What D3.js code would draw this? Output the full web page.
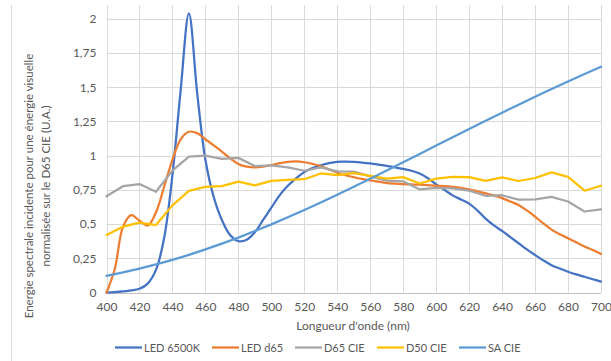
<!DOCTYPE html>
<html><head><meta charset="utf-8">
<script src="https://cdn.jsdelivr.net/npm/d3@7/dist/d3.min.js"></script>
<style>body{margin:0;background:#fff}svg{display:block}text{font-family:Lato,"Open Sans",sans-serif;fill:#595959}</style>
</head><body><svg id="c" width="611" height="361"></svg>
<script>
// wavelengths (nm)
const wl5 = [400,405,410,415,420,425,430,435,440,445,450,455,460,465,470,475,480,485,490,495,500,505,510,515,520,525,530,535,540,545,550,555,560,565,570,575,580,585,590,595,600,605,610,615,620,625,630,635,640,645,650,655,660,665,670,675,680,685,690,695,700];
const wl10 = [400,410,420,430,440,450,460,470,480,490,500,510,520,530,540,550,560,570,580,590,600,610,620,630,640,650,660,670,680,690,700];

const led6500k = [0.00,0.003,0.008,0.015,0.027,0.065,0.165,0.40,0.86,1.48,2.04,1.46,0.97,0.70,0.53,0.42,0.375,0.385,0.44,0.53,0.62,0.71,0.78,0.835,0.88,0.91,0.93,0.945,0.955,0.956,0.954,0.95,0.944,0.935,0.925,0.915,0.903,0.89,0.87,0.835,0.79,0.75,0.71,0.68,0.65,0.60,0.54,0.49,0.45,0.405,0.36,0.315,0.274,0.235,0.20,0.175,0.152,0.132,0.115,0.097,0.08];
const ledD65 = [0.00,0.17,0.48,0.565,0.525,0.49,0.585,0.775,0.97,1.12,1.175,1.165,1.12,1.075,1.03,0.98,0.94,0.92,0.915,0.92,0.932,0.945,0.955,0.958,0.952,0.94,0.925,0.90,0.875,0.857,0.843,0.83,0.82,0.81,0.80,0.795,0.792,0.79,0.788,0.785,0.78,0.777,0.772,0.765,0.754,0.74,0.725,0.71,0.69,0.665,0.64,0.60,0.555,0.505,0.46,0.425,0.397,0.367,0.336,0.31,0.282];
const d65cie = [0.703,0.777,0.793,0.736,0.891,0.993,1.000,0.976,0.984,0.924,0.929,0.915,0.890,0.914,0.886,0.883,0.849,0.818,0.813,0.753,0.764,0.761,0.745,0.707,0.711,0.679,0.681,0.699,0.665,0.592,0.608];
const d50cie = [0.420,0.481,0.511,0.493,0.637,0.743,0.772,0.778,0.810,0.783,0.816,0.823,0.828,0.870,0.858,0.872,0.852,0.833,0.843,0.797,0.832,0.846,0.844,0.816,0.842,0.815,0.837,0.878,0.845,0.744,0.780];
const saCie = [0.122,0.147,0.175,0.205,0.239,0.275,0.315,0.357,0.401,0.449,0.498,0.550,0.603,0.658,0.715,0.773,0.832,0.892,0.952,1.013,1.074,1.134,1.195,1.255,1.314,1.373,1.431,1.487,1.543,1.597,1.650];

const xTicks = [400,420,440,460,480,500,520,540,560,580,600,620,640,660,680,700];
const yTicks = [0,0.25,0.5,0.75,1,1.25,1.5,1.75,2];
const seriesNames = ["LED 6500K","LED d65","D65 CIE","D50 CIE","SA CIE"];
const seriesColors = ["#4472C4","#ED7D31","#A5A5A5","#FFC000","#5B9BD5"];

const series = [
  {name:seriesNames[0], x:wl5, y:led6500k, color:seriesColors[0], smooth:true},
  {name:seriesNames[1], x:wl5, y:ledD65, color:seriesColors[1], smooth:true},
  {name:seriesNames[2], x:wl10, y:d65cie, color:seriesColors[2], smooth:false},
  {name:seriesNames[3], x:wl10, y:d50cie, color:seriesColors[3], smooth:false},
  {name:seriesNames[4], x:wl10, y:saCie, color:seriesColors[4], smooth:false}
];

const svg = d3.select("#c");
const L = 106.5, R = 601, T = 5.2, B = 292.5;
const x = d3.scaleLinear().domain([400,700]).range([L,R]);
const y = d3.scaleLinear().domain([0,2.1]).range([B,T]);

// outer border fragment
svg.append("line").attr("x1",11.5).attr("x2",11.5).attr("y1",5).attr("y2",361).attr("stroke","#D9D9D9").attr("stroke-width",1);

// gridlines
const g = svg.append("g");
g.selectAll(".hg").data(yTicks.filter(d=>d>0)).join("line")
  .attr("x1",L).attr("x2",R).attr("y1",d=>Math.round(y(d))+0.5).attr("y2",d=>Math.round(y(d))+0.5)
  .attr("stroke","#D9D9D9").attr("stroke-width",1);
g.selectAll(".vg").data(xTicks).join("line")
  .attr("x1",d=>Math.round(x(d))+0.5).attr("x2",d=>Math.round(x(d))+0.5).attr("y1",T).attr("y2",B)
  .attr("stroke","#D9D9D9").attr("stroke-width",1);
// x axis line
svg.append("line").attr("x1",L).attr("x2",R).attr("y1",Math.round(B)+0.5).attr("y2",Math.round(B)+0.5)
  .attr("stroke","#BFBFBF").attr("stroke-width",1);

// axes labels via d3 axis
const fmt = d => String(d).replace(".", ",");
const yAx = svg.append("g").attr("transform",`translate(${L},0)`)
  .call(d3.axisLeft(y).tickValues(yTicks).tickFormat(fmt).tickSize(0).tickPadding(10));
yAx.select(".domain").remove();
yAx.selectAll("text").attr("font-size",12).style("font-family","Lato").attr("fill","#595959");

const xAx = svg.append("g").attr("transform",`translate(0,${B})`)
  .call(d3.axisBottom(x).tickValues(xTicks).tickFormat(d=>d).tickSize(0).tickPadding(10));
xAx.select(".domain").remove();
xAx.selectAll("text").attr("font-size",12).style("font-family","Lato").attr("fill","#595959");

// lines
const plot = svg.append("g");
series.forEach(s=>{
  const pts = s.x.map((v,i)=>[v,s.y[i]]);
  const line = d3.line().x(d=>x(d[0])).y(d=>y(d[1]))
    .curve(s.smooth ? d3.curveCatmullRom.alpha(0.5) : d3.curveLinear);
  plot.append("path").attr("d",line(pts)).attr("fill","none")
    .attr("stroke",s.color).attr("stroke-width",2.25).attr("stroke-linejoin","round").attr("stroke-linecap","round");
});

// axis titles
svg.append("text").attr("x",353).attr("y",330).attr("text-anchor","middle").attr("font-size",12)
  .text("Longueur d'onde (nm)");
const yt = svg.append("text").attr("transform","translate(33,186) rotate(-90)").attr("text-anchor","middle").attr("font-size",11.5);
yt.append("tspan").attr("x",0).attr("y",0).text("Energie spectrale incidente pour une énergie visuelle");
yt.append("tspan").attr("x",0).attr("y",17).text("normalisée sur le D65 CIE (U.A.)");

// legend
const legX = [115,212,295,377,459];
const leg = svg.append("g");
series.forEach((s,i)=>{
  leg.append("line").attr("x1",legX[i]).attr("x2",legX[i]+27).attr("y1",347.5).attr("y2",347.5)
    .attr("stroke",s.color).attr("stroke-width",2.25);
  leg.append("text").attr("x",legX[i]+29).attr("y",351.5).attr("font-size",11).text(s.name);
});
</script></body></html>
